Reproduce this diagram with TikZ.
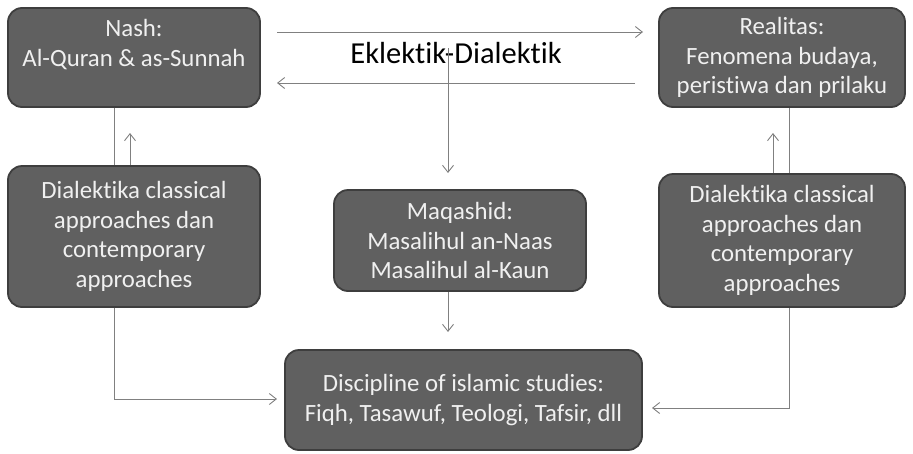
\documentclass[tikz,border=0pt]{standalone}
\usepackage{fontspec}
\setmainfont{Carlito}[Ligatures={NoCommon,NoRare,NoContextual}]
\usetikzlibrary{arrows.meta}
\definecolor{boxfill}{RGB}{96,96,96}
\definecolor{boxline}{RGB}{62,62,62}
\definecolor{arr}{RGB}{128,128,128}
\definecolor{txt}{RGB}{240,240,240}
\tikzset{
 box/.style={draw=boxline, line width=1.8pt, fill=boxfill, rounded corners=14pt, text=txt, align=center, font=\fontsize{24.8}{29.5}\selectfont, inner sep=0pt},
 conn/.style={draw=arr, line width=0.9pt},
 arrow/.style={conn, -{Straight Barb[length=7pt,width=11pt,line width=0.9pt]}},
}
\begin{document}
\begin{tikzpicture}[x=1pt,y=-1pt]
\useasboundingbox (0,0) rectangle (913,453);
\node[box, minimum width=252pt, minimum height=99pt] (nash) at (134,57.5) {Nash:\\Al-Quran \& as-Sunnah\\~};
\node[box, minimum width=246pt, minimum height=99pt] (real) at (782,57.5) {Realitas:\\Fenomena budaya,\\peristiwa dan prilaku};
\node[box, minimum width=252pt, minimum height=141pt] (dialL) at (134,236.5) {Dialektika classical\\approaches dan\\contemporary\\approaches};
\node[box, minimum width=246pt, minimum height=133pt] (dialR) at (782,240.5) {Dialektika classical\\approaches dan\\contemporary\\approaches};
\node[box, minimum width=252pt, minimum height=101pt] (maq) at (460,240.5) {Maqashid:\\Masalihul an-Naas\\Masalihul al-Kaun};
\node[box, minimum width=357pt, minimum height=100pt] (disc) at (463.5,400) {Discipline of islamic studies:\\Fiqh, Tasawuf, Teologi, Tafsir, dll};
\node[font=\fontsize{30.5}{36}\selectfont, anchor=base, inner sep=0pt] (ek) at (456,63) {Eklektik-Dialektik};
\coordinate (xl1) at (114,0);
\coordinate (xl2) at (130,0);
\coordinate (xr1) at (789,0);
\coordinate (xr2) at (773,0);
\coordinate (tipL) at (130,133);
\coordinate (tipR) at (773,133);
\coordinate (t1) at (277,32);
\coordinate (t2) at (643,32);
\coordinate (u1) at (635,83);
\coordinate (u2) at (277,83);
\coordinate (d1) at (448,48);
\coordinate (d2) at (448,173);
\coordinate (xm) at (448,0);
\coordinate (m2) at (448,332);
\coordinate (bl) at (277,399);
\coordinate (br) at (652,408);
\draw[conn] (nash.south -| xl1) -- (dialL.north -| xl1);
\draw[arrow] (dialL.north -| xl2) -- (tipL);
\draw[conn] (real.south -| xr1) -- (dialR.north -| xr1);
\draw[arrow] (dialR.north -| xr2) -- (tipR);
\draw[arrow] (t1) -- (t2);
\draw[arrow] (u1) -- (u2);
\draw[arrow] (d1) -- (d2);
\draw[arrow] (maq.south -| xm) -- (m2);
\draw[arrow] (dialL.south -| xl1) |- (bl);
\draw[arrow] (dialR.south -| xr1) |- (br);
\end{tikzpicture}
\end{document}
